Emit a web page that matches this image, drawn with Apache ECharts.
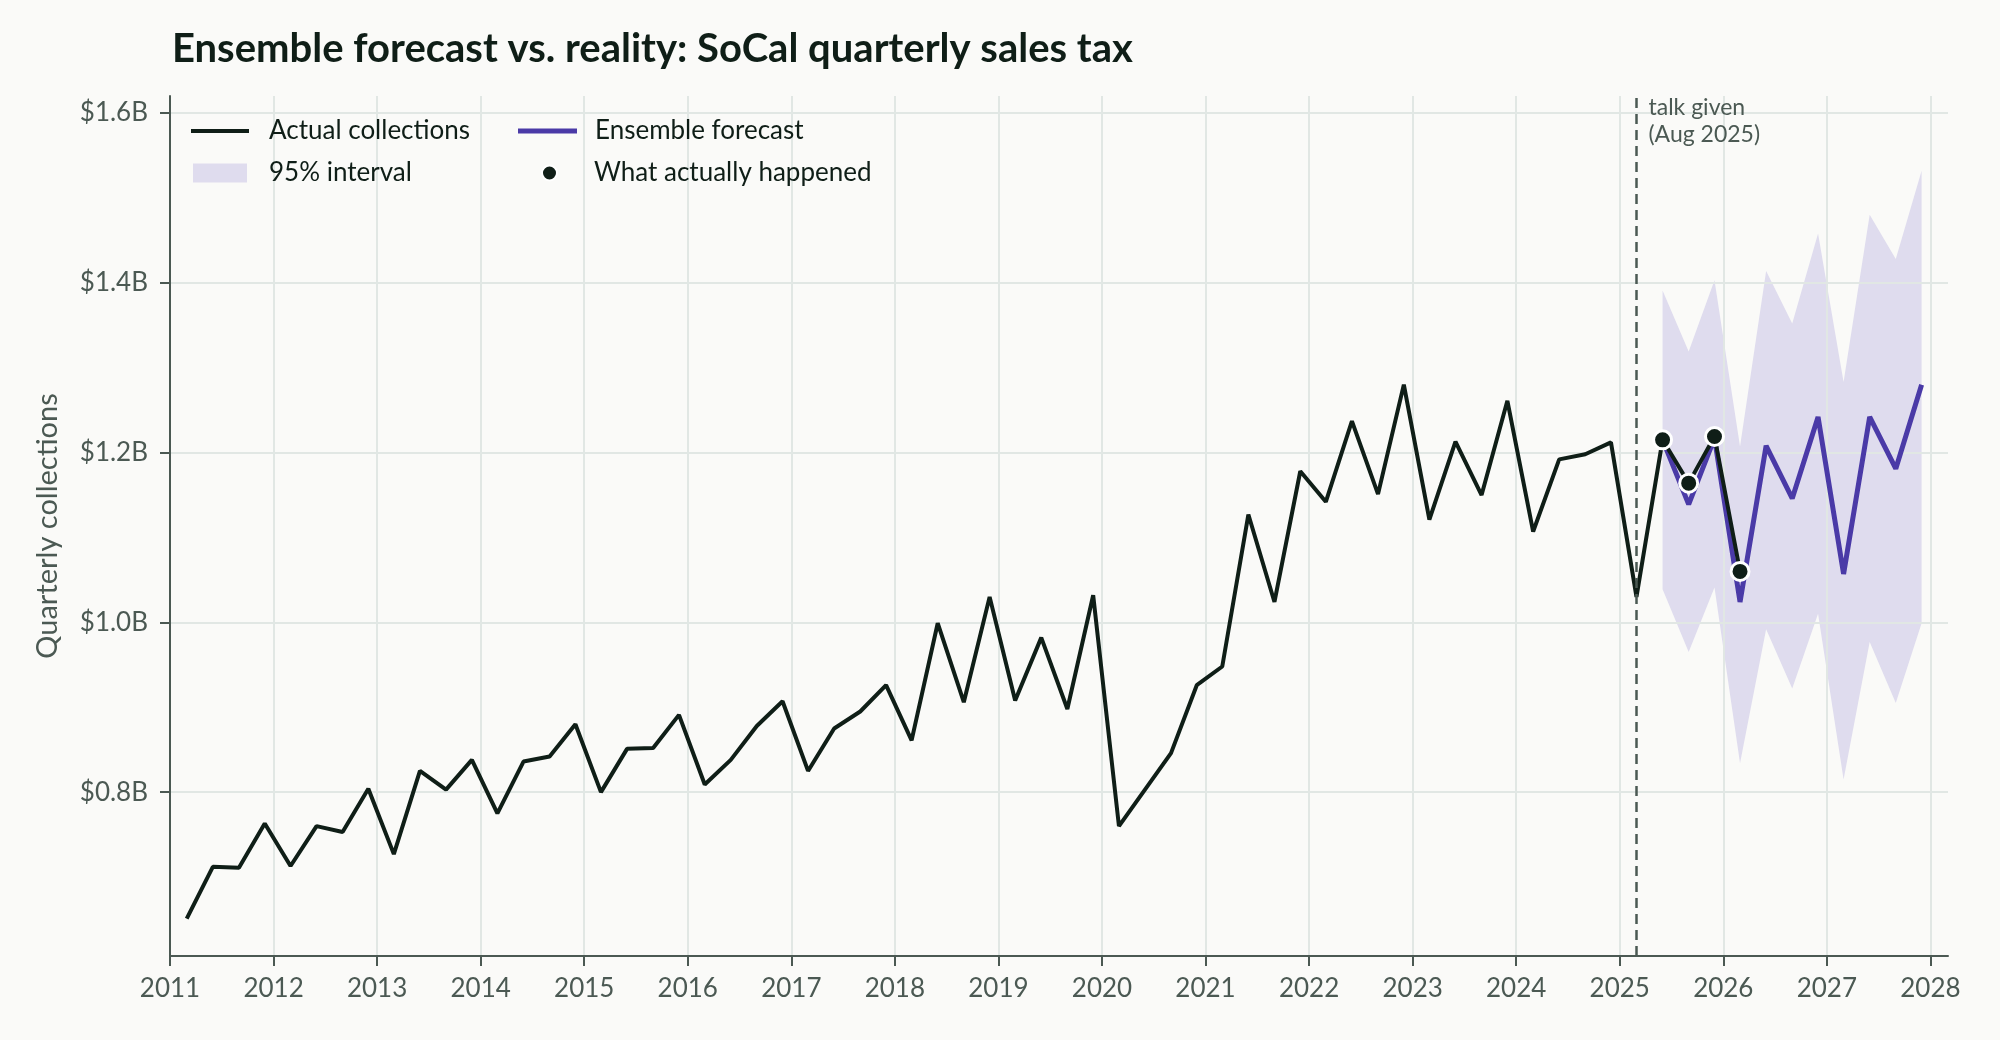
<!DOCTYPE html>
<html>
<head>
<meta charset="utf-8">
<script src="https://cdn.jsdelivr.net/npm/echarts@6/dist/echarts.min.js"></script>
<style>
  html, body { margin: 0; padding: 0; background: #fafaf8; }
  #root { width: 2000px; height: 1040px; }
</style>
</head>
<body>
<div id="root"></div>
<script>
// quarters (first day of the quarter's last month) and collections in $B
const actualQuarters = [
  '2011-03', '2011-06', '2011-09', '2011-12', '2012-03', '2012-06', '2012-09', '2012-12',
  '2013-03', '2013-06', '2013-09', '2013-12', '2014-03', '2014-06', '2014-09', '2014-12',
  '2015-03', '2015-06', '2015-09', '2015-12', '2016-03', '2016-06', '2016-09', '2016-12',
  '2017-03', '2017-06', '2017-09', '2017-12', '2018-03', '2018-06', '2018-09', '2018-12',
  '2019-03', '2019-06', '2019-09', '2019-12', '2020-03', '2020-06', '2020-09', '2020-12',
  '2021-03', '2021-06', '2021-09', '2021-12', '2022-03', '2022-06', '2022-09', '2022-12',
  '2023-03', '2023-06', '2023-09', '2023-12', '2024-03', '2024-06', '2024-09', '2024-12',
  '2025-03', '2025-06', '2025-09', '2025-12', '2026-03'
];
const actualValues = [
  0.651, 0.712, 0.711, 0.763, 0.713, 0.760, 0.753, 0.804,
  0.727, 0.825, 0.803, 0.838, 0.775, 0.836, 0.842, 0.880,
  0.800, 0.851, 0.852, 0.891, 0.809, 0.838, 0.878, 0.907,
  0.825, 0.875, 0.895, 0.926, 0.861, 0.999, 0.906, 1.030,
  0.908, 0.982, 0.898, 1.032, 0.760, 0.803, 0.846, 0.926,
  0.948, 1.127, 1.024, 1.178, 1.142, 1.237, 1.151, 1.280,
  1.121, 1.213, 1.150, 1.261, 1.107, 1.192, 1.198, 1.212,
  1.030, 1.215, 1.164, 1.219, 1.060
];

const forecastQuarters = [
  '2025-06', '2025-09', '2025-12', '2026-03', '2026-06', '2026-09',
  '2026-12', '2027-03', '2027-06', '2027-09', '2027-12'
];
const forecastMid = [1.215, 1.139, 1.217, 1.024, 1.208, 1.146, 1.242, 1.057, 1.242, 1.181, 1.280];
const forecastHi = [1.391, 1.319, 1.403, 1.207, 1.414, 1.352, 1.458, 1.283, 1.480, 1.428, 1.532];
const forecastLo = [1.039, 0.965, 1.041, 0.834, 0.992, 0.922, 1.010, 0.815, 0.977, 0.905, 0.999];

const happenedQuarters = ['2025-06', '2025-09', '2025-12', '2026-03'];
const happenedValues = [1.215, 1.164, 1.219, 1.060];

const talkDate = '2025-03';
const yearTicks = [2011, 2012, 2013, 2014, 2015, 2016, 2017, 2018, 2019,
  2020, 2021, 2022, 2023, 2024, 2025, 2026, 2027, 2028];
const valueTicks = [0.8, 1.0, 1.2, 1.4, 1.6];

// '2011-03' -> decimal year (1st of that month)
function toYear(q) {
  let [y, m] = q.split('-').map(Number);
  let t0 = Date.UTC(y, 0, 1), t1 = Date.UTC(y + 1, 0, 1);
  return y + (Date.UTC(y, m - 1, 1) - t0) / (t1 - t0);
}
function pairs(qs, vs) {
  return qs.map((q, i) => [toYear(q), vs[i]]);
}

const INK = '#0f1e17';
const GREY = '#4b5953';
const PURPLE = '#4a3aa7';
const BAND = '#dfdcee';
const GRIDC = '#e1e7e4';
const FONT = 'Lato';

let bandData = forecastQuarters.map((q, i) => [toYear(q), forecastLo[i], forecastHi[i]]);

let myChart = echarts.init(document.getElementById('root'));

function legendBox(name, left, top, w, h, icon, pad) {
  return {
    data: [{ name: name, icon: icon }],
    left: left,
    top: top,
    padding: 0,
    itemWidth: w,
    itemHeight: h,
    selectedMode: false,
    textStyle: {
      fontFamily: FONT, fontSize: 26, color: INK, lineHeight: 30,
      padding: [0, 0, 0, pad]
    }
  };
}

let option = {
  backgroundColor: '#fafaf8',
  animation: false,
  title: {
    text: 'Ensemble forecast vs. reality: SoCal quarterly sales tax',
    left: 167,
    top: 24,
    textStyle: { fontFamily: FONT, fontWeight: 'bold', fontSize: 40, color: INK }
  },
  legend: [
    legendBox('Actual collections', 191, 116, 58, 4, 'rect', 15),
    legendBox('95% interval', 193, 158, 54, 19, 'rect', 17),
    legendBox('Ensemble forecast', 518, 116, 59, 5, 'rect', 13),
    legendBox('What actually happened', 541, 158, 59, 15, 'circle', 10)
  ],
  grid: { left: 170, right: 52, top: 96, bottom: 84 },
  xAxis: {
    type: 'value',
    min: 2011,
    max: 2028.17,
    interval: 1,
    z: 1,
    axisLine: { show: true, lineStyle: { color: GREY, width: 2 } },
    axisTick: { show: true, length: 10, lineStyle: { color: GREY, width: 2 }, customValues: yearTicks },
    axisLabel: {
      customValues: yearTicks,
      margin: 20,
      fontFamily: FONT, fontSize: 26, color: GREY,
      formatter: v => String(Math.round(v))
    },
    splitLine: { show: true, lineStyle: { color: GRIDC, width: 2 } }
  },
  yAxis: {
    type: 'value',
    min: 0.607,
    max: 1.62,
    z: 1,
    name: 'Quarterly collections',
    nameLocation: 'middle',
    nameGap: 108,
    nameTextStyle: { fontFamily: FONT, fontSize: 29, color: GREY },
    axisLine: { show: true, lineStyle: { color: GREY, width: 2 } },
    axisTick: { show: true, length: 10, lineStyle: { color: GREY, width: 2 }, customValues: valueTicks },
    axisLabel: {
      customValues: valueTicks,
      margin: 22,
      fontFamily: FONT, fontSize: 26, color: GREY,
      formatter: v => '$' + v.toFixed(1) + 'B'
    },
    splitLine: { show: true, lineStyle: { color: GRIDC, width: 2 } }
  },
  series: [
    {
      name: '95% interval',
      type: 'custom',
      data: bandData,
      encode: { x: 0, y: [1, 2] },
      itemStyle: { color: BAND },
      silent: true,
      z: 0,
      renderItem: function (params, api) {
        if (params.dataIndex !== 0) return;
        let top = bandData.map(d => api.coord([d[0], d[2]]));
        let bottom = bandData.map(d => api.coord([d[0], d[1]])).reverse();
        return {
          type: 'polygon',
          shape: { points: top.concat(bottom) },
          style: { fill: BAND }
        };
      }
    },
    {
      name: 'Ensemble forecast',
      type: 'line',
      data: pairs(forecastQuarters, forecastMid),
      showSymbol: false,
      itemStyle: { color: PURPLE },
      lineStyle: { color: PURPLE, width: 5 },
      z: 2
    },
    {
      name: 'Actual collections',
      type: 'line',
      data: pairs(actualQuarters, actualValues),
      showSymbol: false,
      itemStyle: { color: INK },
      lineStyle: { color: INK, width: 4 },
      z: 3,
      markLine: {
        silent: true,
        symbol: 'none',
        label: { show: false },
        lineStyle: { color: GREY, width: 2.5, type: [10, 6] },
        data: [{ xAxis: toYear(talkDate) }]
      },
      markPoint: {
        silent: true,
        symbol: 'circle',
        symbolSize: 0,
        data: [{ coord: [toYear(talkDate), 1.62] }],
        label: {
          show: true,
          position: [12, -2],
          align: 'left',
          verticalAlign: 'top',
          formatter: 'talk given\n(Aug 2025)',
          fontFamily: FONT, fontSize: 23, lineHeight: 27, color: GREY
        }
      }
    },
    {
      name: 'What actually happened',
      type: 'scatter',
      data: pairs(happenedQuarters, happenedValues),
      symbol: 'circle',
      symbolSize: 18,
      itemStyle: { color: INK, opacity: 1, borderColor: '#ffffff', borderWidth: 3 },
      z: 4
    }
  ]
};

myChart.setOption(option);
</script>
</body>
</html>
